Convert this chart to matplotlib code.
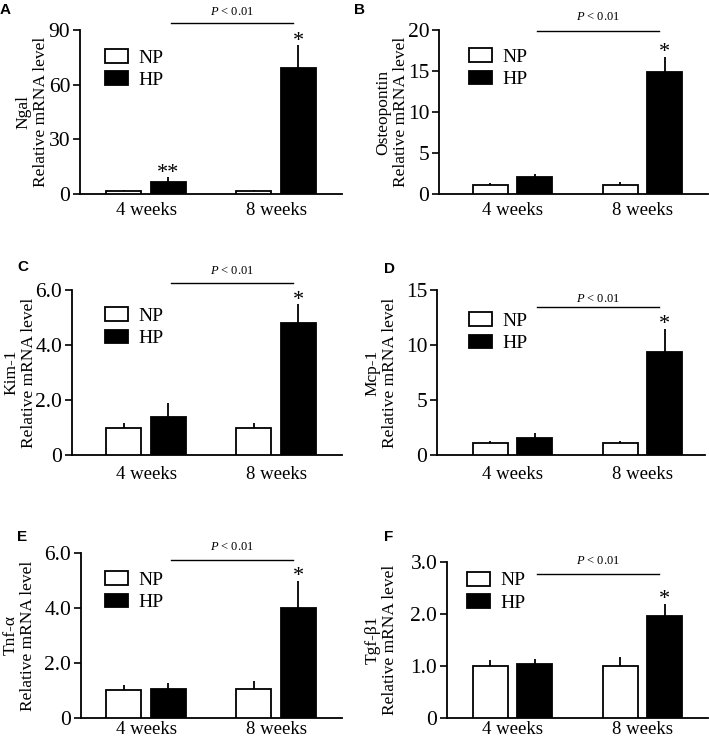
import matplotlib
matplotlib.use('Agg')
import matplotlib.pyplot as plt
import numpy as np

plt.rcParams['font.family'] = ['Liberation Serif', 'DejaVu Serif']
plt.rcParams['mathtext.fontset'] = 'custom'
plt.rcParams['mathtext.rm'] = 'Liberation Serif'
plt.rcParams['mathtext.it'] = 'Liberation Serif:italic'

groups = ['4 weeks', '8 weeks']
series = ['NP', 'HP']

# values (mean, upper error)
ngal_np = [1.6, 1.5]; ngal_np_err = [0.8, 0.5]
ngal_hp = [6.4, 69.0]; ngal_hp_err = [2.7, 12.7]
opn_np = [1.1, 1.1]; opn_np_err = [0.2, 0.35]
opn_hp = [2.1, 14.9]; opn_hp_err = [0.4, 1.85]
kim_np = [0.97, 0.97]; kim_np_err = [0.21, 0.18]
kim_hp = [1.39, 4.81]; kim_hp_err = [0.49, 0.67]
mcp_np = [1.06, 1.06]; mcp_np_err = [0.24, 0.24]
mcp_hp = [1.58, 9.4]; mcp_hp_err = [0.39, 2.1]
tnf_np = [1.01, 1.04]; tnf_np_err = [0.2, 0.32]
tnf_hp = [1.06, 4.0]; tnf_hp_err = [0.21, 1.0]
tgf_np = [1.0, 1.0]; tgf_np_err = [0.12, 0.17]
tgf_hp = [1.03, 1.96]; tgf_hp_err = [0.1, 0.24]

stars_ngal = ['**', '*']
stars_other = ['', '*']

W, H = 709, 738
fig = plt.figure(figsize=(W / 100, H / 100), dpi=100)

# panel: letter, gene, data, yticks, ticklabels, axes box px (l,t,r,b), group centre px,
# label centre x px, legend anchor (axes frac), p-line y (axes frac), p text gap px,
# letter pos px, x label pad
panels = [
    ('A', 'Ngal', ngal_np, ngal_np_err, ngal_hp, ngal_hp_err, stars_ngal,
     [0, 30, 60, 90], ['0', '30', '60', '90'], (80, 30, 342, 194), 146, 32,
     (0.095, 0.885), 1.04, 5, (0, 3), 6),
    ('B', 'Osteopontin', opn_np, opn_np_err, opn_hp, opn_hp_err, stars_other,
     [0, 5, 10, 15, 20], ['0', '5', '10', '15', '20'], (439, 30, 708, 194), 512.5, 392,
     (0.112, 0.89), 0.995, 8, (354, 3), 6),
    ('C', 'Kim-1', kim_np, kim_np_err, kim_hp, kim_hp_err, stars_other,
     [0, 2, 4, 6], ['0', '2.0', '4.0', '6.0'], (72, 290, 342, 455), 146, 20,
     (0.122, 0.897), 1.04, 6, (17, 260), 8),
    ('D', 'Mcp-1', mcp_np, mcp_np_err, mcp_hp, mcp_hp_err, stars_other,
     [0, 5, 10, 15], ['0', '5', '10', '15'], (437, 290, 705, 455), 512.5, 381,
     (0.119, 0.867), 0.90, 1, (384, 262), 8),
    ('E', 'Tnf-α', tnf_np, tnf_np_err, tnf_hp, tnf_hp_err, stars_other,
     [0, 2, 4, 6], ['0', '2.0', '4.0', '6.0'], (81, 553, 342, 718), 146, 19,
     (0.092, 0.891), 0.96, 7, (17, 530), 2.5),
    ('F', 'Tgf-β1', tgf_np, tgf_np_err, tgf_hp, tgf_hp_err, stars_other,
     [0, 1, 2, 3], ['0', '1.0', '2.0', '3.0'], (447, 562, 708, 718), 512.5, 381,
     (0.077, 0.938), 0.92, 7, (384, 530), 2.5),
]

bw = 0.27
off = 0.17
spacing = 130.0
x = np.arange(len(groups))

for (letter, gene, npv, npe, hpv, hpe, stars, yt, ytl, box, c4, labx, leg_anchor,
     pline, pgap, lpos, xpad) in panels:
    l, t, r, b = box
    ax = fig.add_axes([l / W, 1 - b / H, (r - l) / W, (b - t) / H])
    b1 = ax.bar(x - off, npv, bw, color='white', edgecolor='black', linewidth=1.3,
                yerr=[np.zeros(2), npe], error_kw=dict(ecolor='black', elinewidth=1.3, capsize=0),
                label=series[0], zorder=3)
    b2 = ax.bar(x + off, hpv, bw, color='black', edgecolor='black', linewidth=1.3,
                yerr=[np.zeros(2), hpe], error_kw=dict(ecolor='black', elinewidth=1.3, capsize=0),
                label=series[1], zorder=3)
    ax.set_xlim((l - c4) / spacing, (r - c4) / spacing)
    ax.set_ylim(yt[0], yt[-1])
    ax.set_yticks(yt)
    ax.set_yticklabels(ytl, fontsize=15.5)
    ax.set_xticks(x)
    ax.set_xticklabels(groups, fontsize=13.5)
    ax.tick_params(axis='y', direction='out', length=5, width=1.2, pad=2)
    ax.tick_params(axis='x', length=0, pad=xpad)
    for s in ['top', 'right']:
        ax.spines[s].set_visible(False)
    for s in ['left', 'bottom']:
        ax.spines[s].set_linewidth(1.3)
    ax.patch.set_alpha(0)

    # stars
    for i in range(len(groups)):
        if stars[i]:
            ax.annotate(stars[i], (x[i] + off, hpv[i] + hpe[i]), xytext=(0, -4),
                        textcoords='offset points', ha='center', va='bottom', fontsize=16)

    # significance line
    yl = pline * yt[-1]
    ax.plot([0.19, 1.13], [yl, yl], color='black', lw=1.0, clip_on=False)
    ax.annotate('$P$ < 0.01', ((0.19 + 1.13) / 2, yl), xytext=(0, pgap * 0.72),
                textcoords='offset points', ha='center', va='bottom', fontsize=9,
                annotation_clip=False)

    ax.legend(handles=[b1, b2], labels=series, loc='upper left', bbox_to_anchor=leg_anchor,
              frameon=False, fontsize=14, handlelength=1.2, handleheight=0.72,
              labelspacing=0.25, handletextpad=0.5, borderaxespad=0, borderpad=0)

    fig.text(labx / W, 1 - ((t + b) / 2) / H, gene + '\nRelative mRNA level', rotation=90,
             ha='center', va='center', fontsize=12.5, linespacing=1.1)
    fig.text(lpos[0] / W, 1 - lpos[1] / H, letter, family='Liberation Sans', weight='bold',
             fontsize=11, ha='left', va='top')

fig.savefig('out.png', dpi=100)
